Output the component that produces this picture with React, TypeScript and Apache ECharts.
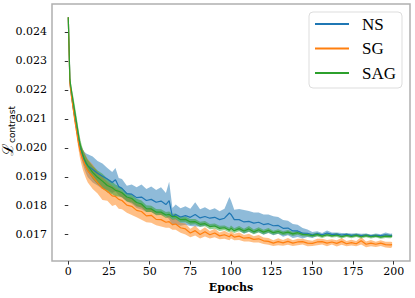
import React, { useEffect, useRef } from "react";
import * as echarts from "echarts";

const epochs = [
  0, 1, 2, 3, 4, 5, 6, 7, 8, 9,
  10, 11, 12, 15, 18, 21, 24, 27, 29, 31,
  33, 36, 39, 42, 45, 48, 51, 54, 57, 60,
  62, 64, 66, 69, 72, 75, 78, 81, 84, 87,
  90, 93, 96, 99, 100, 102, 105, 108, 111, 114,
  117, 120, 123, 126, 129, 132, 135, 138, 141, 144,
  147, 150, 153, 156, 159, 162, 165, 168, 171, 174,
  177, 180, 183, 186, 189, 192, 195, 198, 199,
];

const nsMean = [
  0.0245, 0.02225, 0.0218, 0.0214, 0.02105, 0.0207, 0.02035, 0.02005, 0.01985, 0.01968,
  0.01955, 0.01945, 0.01938, 0.01925, 0.01912, 0.01902, 0.01892, 0.0188, 0.0189, 0.01866,
  0.0186, 0.01842, 0.0184, 0.01828, 0.0183, 0.01818, 0.01822, 0.01812, 0.01816, 0.01804,
  0.01818, 0.01762, 0.0177, 0.01761, 0.01766, 0.0176, 0.0177, 0.01758, 0.01763, 0.01757,
  0.0176, 0.01752, 0.01757, 0.01775, 0.0177, 0.01752, 0.01752, 0.01744, 0.01746, 0.0174,
  0.01743, 0.01735, 0.01738, 0.01731, 0.01732, 0.01722, 0.01723, 0.01713, 0.01713, 0.01705,
  0.01705, 0.01699, 0.01704, 0.017, 0.01706, 0.01701, 0.01702, 0.01699, 0.01701, 0.01698,
  0.017, 0.01697, 0.01699, 0.01696, 0.01698, 0.01697, 0.017, 0.01697, 0.01698,
];
const nsSpread = [
  0.00002, 0.00006, 0.00008, 0.0001, 0.0001, 0.0001, 0.00012, 0.00015, 0.0002, 0.00025,
  0.0003, 0.00035, 0.0004, 0.00045, 0.00042, 0.00044, 0.00038, 0.00036, 0.0004, 0.0003,
  0.00032, 0.00027, 0.00033, 0.00036, 0.00043, 0.0004, 0.00044, 0.00042, 0.00048, 0.0004,
  0.00065, 0.0003, 0.00034, 0.0003, 0.00032, 0.0003, 0.00042, 0.0003, 0.00032, 0.00028,
  0.00031, 0.00029, 0.00033, 0.00055, 0.00048, 0.00034, 0.00037, 0.00041, 0.00036, 0.00037,
  0.00034, 0.00035, 0.00032, 0.00033, 0.00029, 0.00029, 0.00025, 0.00024, 0.00021, 0.00018,
  0.00013, 0.0001, 0.00008, 0.00006, 0.00009, 0.00007, 0.00006, 0.00007, 0.00005, 0.00006,
  0.00005, 0.00006, 0.00005, 0.00005, 0.00006, 0.00005, 0.00008, 0.00006, 0.00006,
];

const sgMean = [
  0.0245, 0.0222, 0.02175, 0.02135, 0.02095, 0.0206, 0.02025, 0.01995, 0.01975, 0.01958,
  0.01945, 0.01932, 0.0192, 0.019, 0.0188, 0.0186, 0.0185, 0.01834, 0.01832, 0.01822,
  0.01818, 0.01802, 0.01798, 0.01784, 0.0178, 0.01765, 0.01767, 0.01753, 0.01752, 0.01743,
  0.01745, 0.01735, 0.01737, 0.01724, 0.0172, 0.01706, 0.01714, 0.01701, 0.0171, 0.017,
  0.01706, 0.01696, 0.017, 0.01693, 0.017, 0.01692, 0.01695, 0.01688, 0.0169, 0.01684,
  0.01686, 0.01679, 0.01677, 0.01671, 0.01676, 0.01672, 0.01677, 0.01671, 0.01675, 0.01676,
  0.01671, 0.0167, 0.01675, 0.01676, 0.01671, 0.01675, 0.0167, 0.01677, 0.01669, 0.01673,
  0.01669, 0.01679, 0.01667, 0.01671, 0.01667, 0.01671, 0.01666, 0.01665, 0.01666,
];
const sgSpread = [
  0.00002, 0.00005, 0.00008, 0.0001, 0.00012, 0.00015, 0.0002, 0.00025, 0.0003, 0.00035,
  0.00038, 0.0004, 0.0004, 0.00042, 0.00038, 0.0004, 0.00033, 0.00035, 0.00029, 0.00032,
  0.0003, 0.00026, 0.0003, 0.00024, 0.00028, 0.00022, 0.00026, 0.0002, 0.00024, 0.00019,
  0.00021, 0.00018, 0.0002, 0.00017, 0.00019, 0.00015, 0.00017, 0.00014, 0.00016, 0.00013,
  0.00015, 0.00012, 0.00014, 0.00012, 0.00013, 0.00011, 0.00013, 0.00011, 0.00013, 0.00011,
  0.00013, 0.00011, 0.00012, 0.0001, 0.00012, 0.0001, 0.00012, 0.0001, 0.00011, 0.0001,
  0.00011, 0.00009, 0.00011, 0.0001, 0.00011, 0.00009, 0.00011, 0.00012, 0.00009, 0.0001,
  0.00009, 0.00013, 0.0001, 0.00011, 0.00009, 0.0001, 0.0001, 0.00011, 0.00009,
];

const sagMean = [
  0.0245, 0.02235, 0.02195, 0.0216, 0.02125, 0.0209, 0.02055, 0.0202, 0.01995, 0.01975,
  0.0196, 0.01948, 0.01938, 0.01915, 0.01898, 0.01885, 0.0187, 0.01862, 0.01853, 0.0185,
  0.01845, 0.0183, 0.01825, 0.01811, 0.01806, 0.0179, 0.01789, 0.01778, 0.01778, 0.01768,
  0.0177, 0.01762, 0.01763, 0.01752, 0.01753, 0.01744, 0.01745, 0.01736, 0.01738, 0.01728,
  0.0173, 0.01722, 0.01724, 0.01716, 0.01722, 0.01714, 0.01721, 0.01713, 0.0172, 0.0171,
  0.01717, 0.01709, 0.01715, 0.01707, 0.01711, 0.01705, 0.01709, 0.01703, 0.01707, 0.01701,
  0.017, 0.01697, 0.01701, 0.01695, 0.017, 0.01696, 0.01699, 0.01693, 0.01698, 0.01694,
  0.01698, 0.01693, 0.01697, 0.01693, 0.01696, 0.01692, 0.01695, 0.01694, 0.01695,
];
const sagSpread = [
  0.00002, 0.0001, 0.00015, 0.0002, 0.00022, 0.00022, 0.0002, 0.0002, 0.0002, 0.0002,
  0.0002, 0.0002, 0.0002, 0.00022, 0.00024, 0.00025, 0.00024, 0.00022, 0.0002, 0.00018,
  0.00016, 0.00015, 0.00014, 0.00013, 0.00012, 0.00012, 0.00011, 0.00011, 0.0001, 0.0001,
  0.0001, 0.0001, 0.0001, 0.0001, 0.0001, 0.0001, 0.00009, 0.00009, 0.00009, 0.00009,
  0.00009, 0.00009, 0.00008, 0.00008, 0.0001, 0.00008, 0.00009, 0.00008, 0.0001, 0.00008,
  0.00009, 0.00008, 0.00008, 0.00007, 0.00008, 0.00007, 0.00007, 0.00007, 0.00007, 0.00007,
  0.00006, 0.00006, 0.00007, 0.00006, 0.00006, 0.00006, 0.00007, 0.00006, 0.00006, 0.00006,
  0.00006, 0.00006, 0.00006, 0.00006, 0.00006, 0.00006, 0.00006, 0.00006, 0.00005,
];

const seriesNames = ["NS", "SG", "SAG"];
const xTicks = [0, 25, 50, 75, 100, 125, 150, 175, 200];
const yTicks = [0.017, 0.018, 0.019, 0.02, 0.021, 0.022, 0.023, 0.024];

const COLORS = ["#1f77b4", "#ff7f0e", "#2ca02c"];
const BANDS = ["rgba(31,119,180,0.5)", "rgba(255,127,14,0.5)", "rgba(44,160,44,0.5)"];

function bandSeries(name: string, mean: number[], spread: number[], fill: string) {
  const lo = mean.map((m, i) => m - spread[i]);
  const hi = mean.map((m, i) => m + spread[i]);
  return {
    type: "custom",
    name: name + " band",
    silent: true,
    clip: true,
    data: epochs.map((e, i) => [e, lo[i], hi[i]]),
    encode: { x: 0, y: [1, 2] },
    renderItem: (params: any, api: any) => {
      if (params.dataIndex !== 0) return null;
      const pts: number[][] = [];
      for (let i = 0; i < epochs.length; i++) pts.push(api.coord([epochs[i], hi[i]]));
      for (let i = epochs.length - 1; i >= 0; i--) pts.push(api.coord([epochs[i], lo[i]]));
      return { type: "polygon", shape: { points: pts }, style: { fill, stroke: "none" } };
    },
  };
}

function lineSeries(name: string, mean: number[], color: string) {
  return {
    type: "line",
    name,
    symbol: "none",
    data: epochs.map((e, i) => [e, mean[i]]),
    lineStyle: { color, width: 1.2 },
    itemStyle: { color },
    clip: true,
  };
}

export default function App() {
  const ref = useRef<HTMLDivElement>(null);
  useEffect(() => {
    document.body.style.margin = "0";
    const chart = echarts.init(ref.current!, null, { renderer: "svg" });
    const means = [nsMean, sgMean, sagMean];
    const spreads = [nsSpread, sgSpread, sagSpread];
    const series: any[] = [];
    seriesNames.forEach((n, k) => {
      series.push(bandSeries(n, means[k], spreads[k], BANDS[k]));
      series.push(lineSeries(n, means[k], COLORS[k]));
    });
    chart.setOption({
      animation: false,
      grid: {
        left: 52,
        right: 5,
        top: 4,
        bottom: 33,
        show: true,
        borderColor: "#b0b0b0",
        borderWidth: 1.5,
        backgroundColor: "transparent",
      },
      xAxis: {
        type: "value",
        min: -10,
        max: 210,
        name: "Epochs",
        nameLocation: "middle",
        nameGap: 14,
        nameTextStyle: {
          fontFamily: "DejaVu Serif",
          fontWeight: "bold",
          fontSize: 11,
          color: "#000",
          verticalAlign: "top",
        },
        axisLine: { show: false },
        splitLine: { show: false },
        axisTick: {
          show: true,
          customValues: xTicks,
          length: 3.5,
          lineStyle: { color: "#333", width: 1 },
        },
        axisLabel: {
          customValues: xTicks,
          margin: 5,
          fontFamily: "DejaVu Serif",
          fontSize: 11,
          color: "#000",
        },
      },
      yAxis: {
        type: "value",
        min: 0.01609,
        max: 0.02496,
        axisLine: { show: false },
        splitLine: { show: false },
        axisTick: {
          show: true,
          customValues: yTicks,
          length: 3.5,
          lineStyle: { color: "#333", width: 1 },
        },
        axisLabel: {
          customValues: yTicks,
          margin: 5,
          fontFamily: "DejaVu Serif",
          fontSize: 11,
          color: "#000",
          formatter: (v: number) => v.toFixed(3),
        },
      },
      legend: {
        data: seriesNames,
        orient: "vertical",
        left: 309,
        top: 12,
        icon: "rect",
        itemWidth: 34,
        itemHeight: 2.2,
        itemGap: 6.5,
        padding: [3, 6, 6, 6],
        backgroundColor: "#fff",
        borderColor: "#dddddd",
        borderWidth: 1,
        borderRadius: 4,
        textStyle: {
          fontFamily: "Liberation Serif",
          fontSize: 17,
          lineHeight: 18,
          color: "#000",
          padding: [0, 0, 0, 8],
        },
      },
      graphic: [
        {
          type: "text",
          x: 8,
          y: 131,
          rotation: Math.PI / 2,
          style: {
            text: "{a|ℒ}{b|contrast}",
            align: "center",
            verticalAlign: "middle",
            rich: {
              a: { fontFamily: "DejaVu Serif", fontSize: 15, fill: "#000", lineHeight: 16 },
              b: {
                fontFamily: "DejaVu Sans",
                fontSize: 9,
                fill: "#000",
                verticalAlign: "bottom",
                lineHeight: 16,
                padding: [5, 0, 0, 0],
              },
            },
          },
        },
      ],
      series,
    });
    return () => chart.dispose();
  }, []);
  return <div ref={ref} style={{ width: 415, height: 298 }} />;
}
